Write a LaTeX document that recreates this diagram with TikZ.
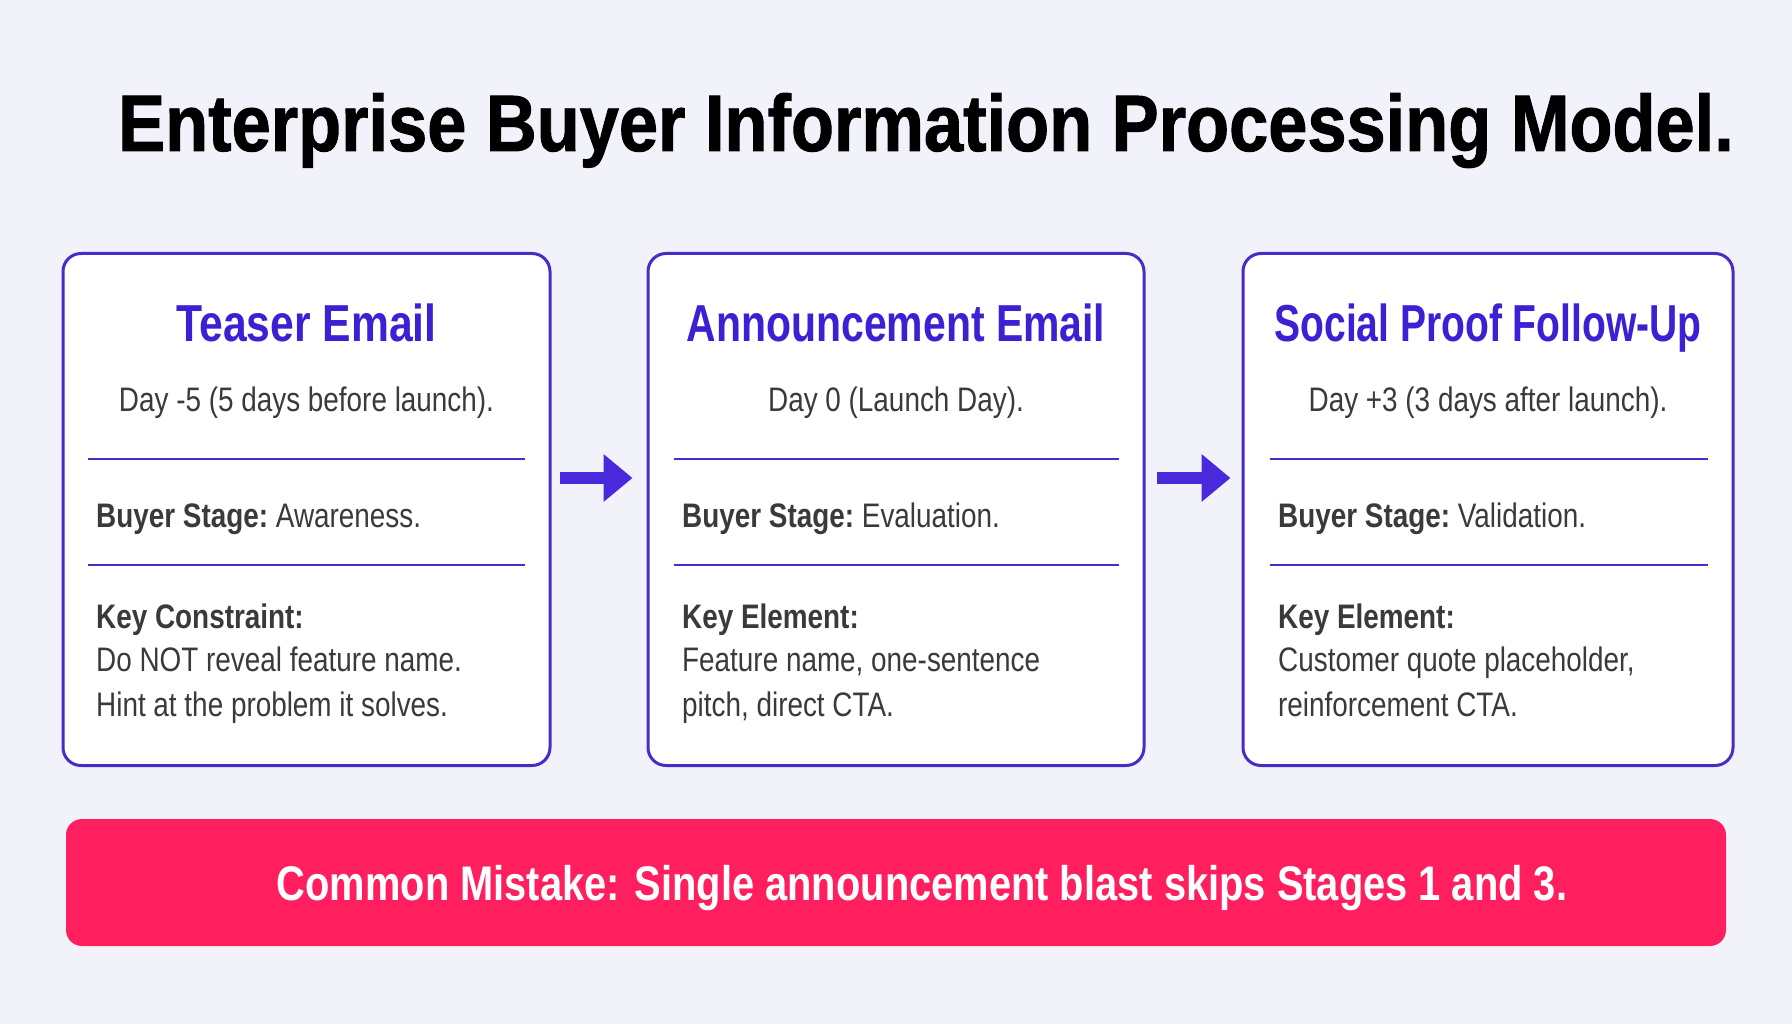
\documentclass[tikz,border=0pt]{standalone}
\usepackage{fontspec}
\usepackage{graphicx}
\setmainfont{Liberation Sans}
\newfontfamily\bodyf{Liberation Sans}[FakeStretch=0.82]
\newfontfamily\titlef{Liberation Sans}[FakeStretch=0.88,FakeBold=1.2]
\usetikzlibrary{arrows.meta}
\definecolor{bgc}{HTML}{F2F3FA}
\definecolor{cardborder}{HTML}{4A2BC8}
\definecolor{headc}{HTML}{3D1FD4}
\definecolor{arrowc}{HTML}{4A28DC}
\definecolor{redc}{HTML}{FF1F5E}
\definecolor{bodyc}{HTML}{3A3A3C}
\tikzset{
  card/.style={draw=cardborder, line width=3pt, fill=white, rounded corners=18pt, minimum width=487pt, minimum height=512pt, inner sep=0pt},
  divider/.style={draw=cardborder, line width=2.5pt},
  headtxt/.style={inner sep=0pt, anchor=base, text=headc, font=\bodyf\bfseries\fontsize{52}{60}\selectfont},
  daytxt/.style={inner sep=0pt, anchor=base, text=bodyc, font=\bodyf\fontsize{34}{40}\selectfont},
  bodytxt/.style={inner sep=0pt, anchor=base west, text=bodyc, font=\bodyf\fontsize{34}{40}\selectfont},
  flowarrow/.style={draw=arrowc, line width=12pt, -{Triangle[length=29pt,width=46pt]}},
  bar/.style={fill=redc, rounded corners=16pt, minimum width=1660pt, minimum height=127pt, inner sep=0pt},
  bartxt/.style={inner sep=0pt, anchor=base, text=white, font=\bodyf\bfseries\fontsize{48.6}{56}\selectfont},
  titletxt/.style={inner sep=0pt, anchor=base, text=black, font=\titlef\bfseries\fontsize{80}{90}\selectfont}
}
\begin{document}
\begin{tikzpicture}[x=1pt,y=-1pt]
\fill[bgc] (0,0) rectangle (1792,1024);
\useasboundingbox (0,0) rectangle (1792,1024);
% title
\node[titletxt] (title) at (926,151) {Enterprise Buyer Information Processing Model.};
% cards
\node[card] (b1) at (306.5,509.5) {};
\node[card, minimum width=496pt] (b2) at (896,509.5) {};
\node[card, minimum width=490pt] (b3) at (1488,509.5) {};
% card 1
\node[headtxt] (h1) at (306.5,342) {Teaser Email};
\node[daytxt] (d1) at (306.5,411) {Day -5 (5 days before launch).};
\draw[divider] (88,459) -- (525,459);
\node[bodytxt] (s1) at (96,527) {\bfseries Buyer Stage:\mdseries\ Awareness.};
\draw[divider] (88,565) -- (525,565);
\node[bodytxt] (k1) at (96,628) {\bfseries Key Constraint:};
\node[bodytxt] (k1a) at (96,671) {Do NOT reveal feature name.};
\node[bodytxt] (k1b) at (96,716) {Hint at the problem it solves.};
% card 2
\node[headtxt] (h2) at (896,342) {\scalebox{0.96}[1]{Announcement Email}};
\node[daytxt] (d2) at (896,411) {Day 0 (Launch Day).};
\draw[divider] (674,459) -- (1119,459);
\node[bodytxt] (s2) at (682,527) {\bfseries Buyer Stage:\mdseries\ Evaluation.};
\draw[divider] (674,565) -- (1119,565);
\node[bodytxt] (k2) at (682,628) {\bfseries Key Element:};
\node[bodytxt] (k2a) at (682,671) {Feature name, one-sentence};
\node[bodytxt] (k2b) at (682,716) {pitch, direct CTA.};
% card 3
\node[headtxt] (h3) at (1488,342) {\scalebox{0.915}[1]{Social Proof Follow-Up}};
\node[daytxt] (d3) at (1488,411) {Day +3 (3 days after launch).};
\draw[divider] (1270,459) -- (1708,459);
\node[bodytxt] (s3) at (1278,527) {\bfseries Buyer Stage:\mdseries\ Validation.};
\draw[divider] (1270,565) -- (1708,565);
\node[bodytxt] (k3) at (1278,628) {\bfseries Key Element:};
\node[bodytxt] (k3a) at (1278,671) {Customer quote placeholder,};
\node[bodytxt] (k3b) at (1278,716) {reinforcement CTA.};
% arrows
\draw[flowarrow, shorten <=8pt, shorten >=14pt] (b1.east |- 0,478) -- (b2.west |- 0,478);
\draw[flowarrow, shorten <=11pt, shorten >=11pt] (b2.east |- 0,478) -- (b3.west |- 0,478);
% bottom bar
\node[bar] (bar) at (896,882.5) {};
\node[bartxt] (bartext) at (922,900) {Common Mistake: Single announcement blast skips Stages 1 and 3.};
\end{tikzpicture}
\end{document}
